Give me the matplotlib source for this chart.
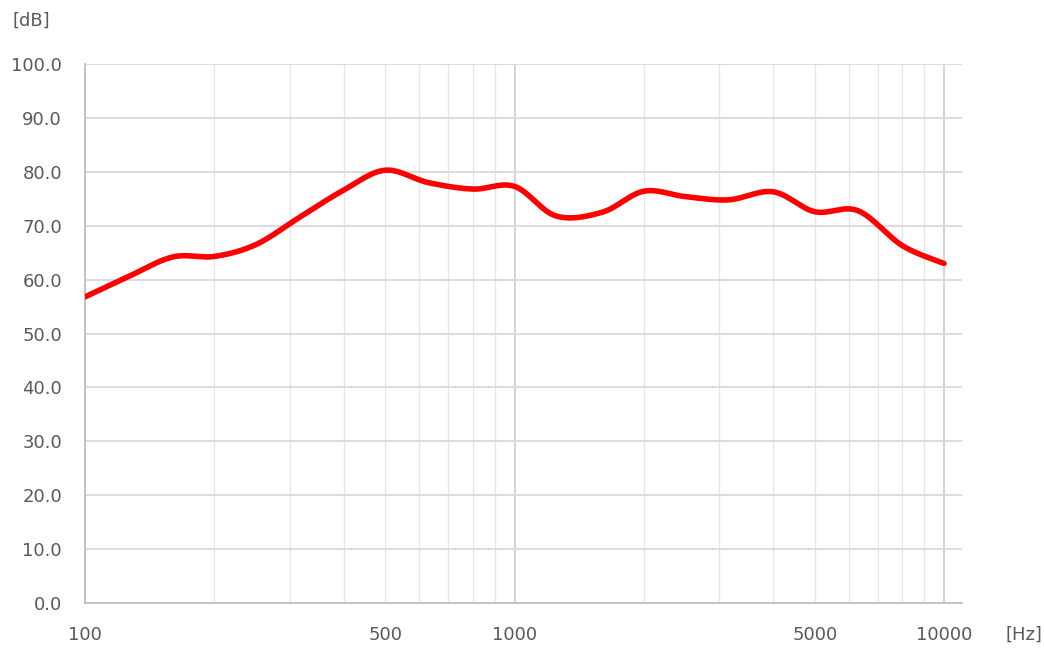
import numpy as np
import matplotlib
matplotlib.use("Agg")
import matplotlib.pyplot as plt
from matplotlib.ticker import FixedLocator, NullFormatter

plt.rcParams['font.family'] = ['DejaVu Sans']

# 1/3 octave band levels
freqs = [100, 125, 160, 200, 250, 315, 400, 500, 630, 800, 1000,
         1250, 1600, 2000, 2500, 3150, 4000, 5000, 6300, 8000, 10000]
levels = [56.8, 60.4, 64.2, 64.3, 66.5, 71.5, 76.6, 80.3, 78.0, 76.8, 77.3,
          71.8, 72.5, 76.4, 75.4, 74.8, 76.3, 72.6, 72.8, 66.3, 63.0]
xticks = [100, 500, 1000, 5000, 10000]
yticks = np.arange(0, 101, 10)


def smooth(x, y, n=30):
    # catmull-rom style smoothing like the spreadsheet "smoothed line"
    x = np.asarray(x, float)
    y = np.asarray(y, float)
    px = np.concatenate([[x[0]], x, [x[-1]]])
    py = np.concatenate([[y[0]], y, [y[-1]]])
    xs, ys = [], []
    for i in range(1, len(px) - 2):
        p0, p1, p2, p3 = [np.array([px[j], py[j]]) for j in (i - 1, i, i + 1, i + 2)]
        c1 = p1 + (p2 - p0) / 6
        c2 = p2 - (p3 - p1) / 6
        t = np.linspace(0, 1, n)[:, None]
        b = ((1 - t) ** 3) * p1 + 3 * ((1 - t) ** 2) * t * c1 + 3 * (1 - t) * t ** 2 * c2 + t ** 3 * p2
        xs.append(b[:, 0])
        ys.append(b[:, 1])
    return np.concatenate(xs), np.concatenate(ys)


lx, ly = smooth(np.log10(freqs), levels)

fig = plt.figure(figsize=(10.44, 6.48), dpi=100)
ax = fig.add_axes([0.0814, 0.0694, 0.8401, 0.8318])

ax.plot(10 ** lx, ly, color='#ff0000', lw=4.0, solid_capstyle='round', zorder=3)

ax.set_xscale('log')
ax.set_xlim(100, 11013)
ax.set_ylim(0, 100)

ax.xaxis.set_major_locator(FixedLocator([100, 1000, 10000]))
minor = [m * d for d in (100, 1000) for m in range(2, 10)]
ax.xaxis.set_minor_locator(FixedLocator(minor))
ax.xaxis.set_major_formatter(NullFormatter())
ax.xaxis.set_minor_formatter(NullFormatter())
ax.set_yticks(yticks)
ax.set_yticklabels(['%.1f' % v for v in yticks])

ax.grid(True, which='major', axis='x', color='#d0d0d0', lw=1.3)
ax.grid(True, which='minor', axis='x', color='#e6e6e6', lw=1.0)
ax.grid(True, which='major', axis='y', color='#d9d9d9', lw=1.3)
ax.set_axisbelow(True)

for s in ('top', 'right'):
    ax.spines[s].set_visible(False)
for s in ('left', 'bottom'):
    ax.spines[s].set_color('#bfbfbf')
    ax.spines[s].set_linewidth(1.3)

ax.tick_params(which='both', length=0, colors='#595959', labelsize=13)
ax.tick_params(axis='y', pad=16.5)

for v in xticks:
    ax.text(v, -4.3, str(v), transform=ax.transData, ha='center', va='top',
            fontsize=13, color='#595959')

fig.text(0.0115, 0.968, '[dB]', ha='left', va='center', fontsize=13, color='#595959')
fig.text(0.963, 0.020, '[Hz]', ha='left', va='center', fontsize=13, color='#595959')

fig.savefig('out.png', dpi=100)
